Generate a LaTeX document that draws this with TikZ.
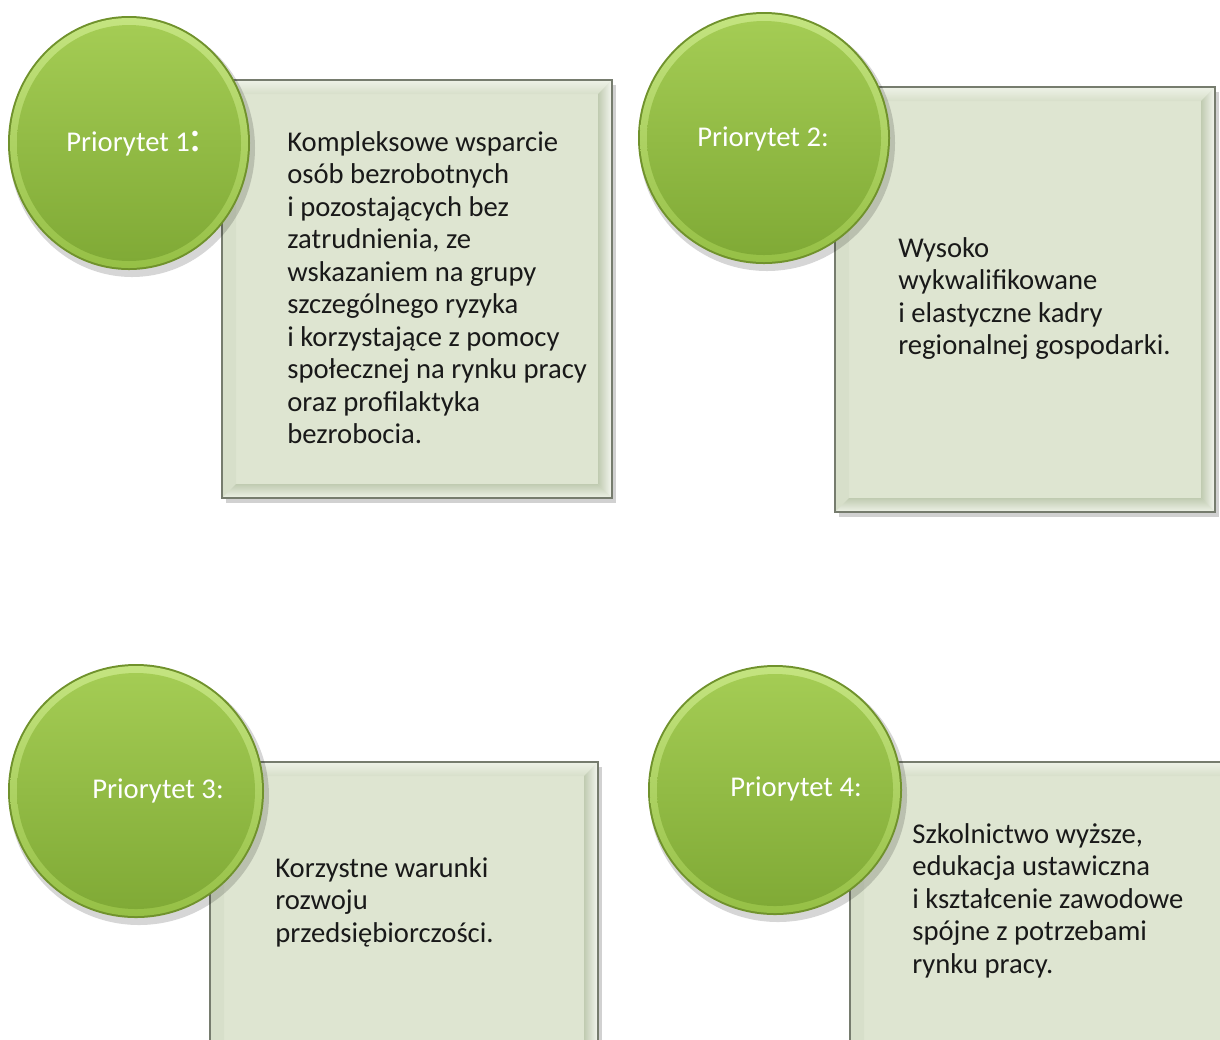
\documentclass[tikz,border=0pt]{standalone}
\usepackage{fontspec}
\setmainfont{Carlito}
\usepackage{tikz}
\usetikzlibrary{positioning,shadings}
\definecolor{leafedge}{RGB}{112,146,44}
\definecolor{leafring}{RGB}{196,228,128}
\definecolor{leafringlow}{RGB}{150,192,70}
\definecolor{leaftop}{RGB}{164,204,84}
\definecolor{leafbottom}{RGB}{128,170,54}
\definecolor{panel}{RGB}{222,229,209}
\definecolor{panellight}{RGB}{238,242,231}
\definecolor{panelside}{RGB}{215,223,202}
\definecolor{panelshade}{RGB}{192,203,177}
\definecolor{panelwhite}{RGB}{244,246,240}
\definecolor{frame}{RGB}{118,124,110}

% bevelled panel: x1, y1, x2, y2 (pixel units)
\newcommand{\bevelpanel}[4]{%
    \fill[black, opacity=0.18] (#1+4,#2+5) rectangle (#3+4,#4+5);
    \fill[panel] (#1,#2) rectangle (#3,#4);
    \shade[top color=panellight, bottom color=panelside]
        (#1,#2) -- (#3,#2) -- (#3-14,#2+14) -- (#1+14,#2+14) -- cycle;
    \fill[panelside] (#1,#2) -- (#1+14,#2+14) -- (#1+14,#4-14) -- (#1,#4) -- cycle;
    \shade[left color=panelshade, right color=panelwhite]
        (#3,#2) -- (#3,#4) -- (#3-14,#4-14) -- (#3-14,#2+14) -- cycle;
    \shade[top color=panelshade, bottom color=panellight]
        (#1,#4) -- (#3,#4) -- (#3-14,#4-14) -- (#1+14,#4-14) -- cycle;
    \draw[frame, line width=0.8pt] (#1,#2) rectangle (#3,#4);
}
% green disc: cx, cy, rx, ry
\newcommand{\leafdisc}[4]{%
    \fill[black, opacity=0.16] (#1+3,#2+5) ellipse [x radius=#3+2, y radius=#4+2];
    \fill[leafedge] (#1,#2) ellipse [x radius=#3, y radius=#4];
    \shade[top color=leafring, bottom color=leafringlow] (#1,#2) ellipse [x radius=#3-2, y radius=#4-2];
    \shade[top color=leaftop, bottom color=leafbottom] (#1,#2) ellipse [x radius=#3-9, y radius=#4-9];
}

\begin{document}
\begin{tikzpicture}[x=0.02cm, y=-0.02cm,
    panel text/.style={anchor=north west, inner sep=0pt, align=left, text=black!90,
        font=\fontsize{16.3}{18.5}\selectfont},
    prio text/.style={anchor=base west, inner sep=0pt, text=white,
        font=\fontsize{16.3}{18.5}\selectfont}]
    \useasboundingbox (0,0) rectangle (1220,1039);
    \clip (0,0) rectangle (1220,1039);

    % Priority 1
    \bevelpanel{222}{80}{612}{498}
    \leafdisc{129}{143}{121}{127}
    \node[prio text] (prio1) at (66,151) {Priorytet 1{\fontsize{26}{26}\selectfont:}};
    \node[panel text] (opis1) at (287,131) {Kompleksowe wsparcie\\osób bezrobotnych\\i pozostających bez\\zatrudnienia, ze\\wskazaniem na grupy\\szczególnego ryzyka\\i korzystające z pomocy\\społecznej na rynku pracy\\oraz profilaktyka\\bezrobocia.};

    % Priority 2
    \bevelpanel{835}{87}{1215}{512}
    \leafdisc{764}{138}{126}{126}
    \node[prio text] (prio2) at (697,146) {Priorytet 2:};
    \node[panel text] (opis2) at (898,237) {Wysoko\\wykwalifikowane\\i elastyczne kadry\\regionalnej gospodarki.};

    % Priority 3
    \bevelpanel{210}{762}{598}{1060}
    \leafdisc{136}{791}{128}{127}
    \node[prio text] (prio3) at (92,798) {Priorytet 3:};
    \node[panel text] (opis3) at (275,857) {Korzystne warunki\\rozwoju\\przedsiębiorczości.};

    % Priority 4
    \bevelpanel{850}{762}{1240}{1060}
    \leafdisc{775}{790}{127}{125}
    \node[prio text] (prio4) at (730,796) {Priorytet 4:};
    \node[panel text] (opis4) at (912,823) {Szkolnictwo wyższe,\\edukacja ustawiczna\\i kształcenie zawodowe\\spójne z potrzebami\\rynku pracy.};
\end{tikzpicture}
\end{document}
